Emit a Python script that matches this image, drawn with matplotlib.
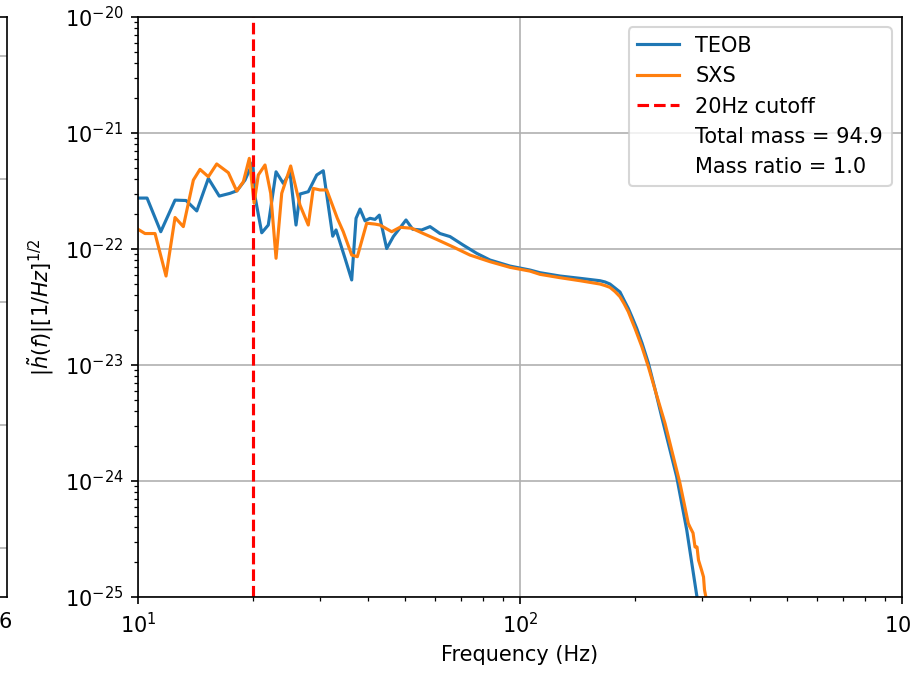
import matplotlib
matplotlib.use("Agg")
import matplotlib.pyplot as plt

# Amplitude spectra |h(f)| for the two waveforms
freq_teob = [10.0, 10.56, 11.47, 12.50, 13.36, 14.25, 15.28, 16.32, 17.41, 18.16,
             19.06, 19.97, 20.25, 21.08, 21.93, 22.98, 24.01, 25.0, 25.92, 26.55,
             27.91, 29.37, 30.55, 32.34, 32.99, 34.83, 36.26, 37.22, 38.13, 39.29,
             40.49, 41.73, 42.83, 44.77, 46.6, 50.30, 52.37, 55.29, 58.14, 61.74,
             65.59, 71.06, 77.03, 83.44, 94.15, 106.2, 112.8, 127.3, 143.6, 162.0,
             167.0, 172.0, 177.3, 182.7, 187.2, 192.1, 196.5, 202.1, 208.6, 216.8,
             225.6, 234.9, 257.1, 273.2, 290.1, 296.0]
h_teob = [2.75e-22, 2.75e-22, 1.41e-22, 2.64e-22, 2.62e-22, 2.13e-22, 4.06e-22, 2.86e-22, 3.02e-22, 3.18e-22,
          3.93e-22, 5.55e-22, 2.82e-22, 1.38e-22, 1.61e-22, 4.63e-22, 3.68e-22, 4.55e-22, 1.61e-22, 2.98e-22,
          3.12e-22, 4.35e-22, 4.73e-22, 1.29e-22, 1.46e-22, 8.32e-23, 5.41e-23, 1.84e-22, 2.21e-22, 1.75e-22,
          1.84e-22, 1.80e-22, 1.96e-22, 1.01e-22, 1.28e-22, 1.78e-22, 1.48e-22, 1.46e-22, 1.56e-22, 1.36e-22,
          1.28e-22, 1.08e-22, 9.18e-23, 8.04e-23, 7.13e-23, 6.59e-23, 6.25e-23, 5.85e-23, 5.59e-23, 5.33e-23,
          5.20e-23, 4.99e-23, 4.61e-23, 4.26e-23, 3.63e-23, 3.08e-23, 2.59e-23, 2.07e-23, 1.55e-23, 1.04e-23,
          6.21e-24, 3.58e-24, 1.09e-24, 3.79e-25, 1.04e-25, 7.4e-26]

freq_sxs = [10.0, 10.43, 11.08, 11.84, 12.50, 13.14, 13.96, 14.53, 15.28, 16.07,
            17.24, 18.13, 18.87, 19.56, 20.13, 20.65, 21.50, 22.25, 22.98, 23.78,
            25.10, 26.55, 27.91, 28.76, 29.95, 31.19, 33.25, 34.46, 36.26, 37.51,
            39.69, 41.73, 43.0, 46.14, 48.52, 52.06, 55.84, 60.53, 66.90, 73.97,
            83.44, 94.15, 106.2, 112.8, 127.3, 143.6, 162.0, 167.0, 172.0, 177.3,
            182.7, 187.2, 192.1, 196.5, 200.0, 208.6, 216.8, 227.0, 239.7, 262.3,
            275.8, 278.6, 283.8, 287.2, 290.7, 293.3, 298.7, 302.3, 304.1, 307.8,
            310.0]
h_sxs = [1.48e-22, 1.36e-22, 1.36e-22, 5.85e-23, 1.87e-22, 1.56e-22, 3.93e-22, 4.86e-22, 4.20e-22, 5.41e-22,
         4.55e-22, 3.16e-22, 3.80e-22, 6.05e-22, 2.48e-22, 4.35e-22, 5.30e-22, 3.02e-22, 8.32e-23, 3.02e-22,
         5.20e-22, 2.39e-22, 1.61e-22, 3.33e-22, 3.23e-22, 3.23e-22, 1.84e-22, 1.41e-22, 8.87e-23, 8.59e-23,
         1.67e-22, 1.64e-22, 1.61e-22, 1.41e-22, 1.54e-22, 1.51e-22, 1.36e-22, 1.21e-22, 1.04e-22, 8.87e-23,
         7.78e-23, 6.95e-23, 6.45e-23, 6.05e-23, 5.66e-23, 5.33e-23, 4.99e-23, 4.84e-23, 4.67e-23, 4.30e-23,
         3.88e-23, 3.39e-23, 2.88e-23, 2.39e-23, 2.07e-23, 1.43e-23, 9.66e-24, 5.74e-24, 3.14e-24, 9.55e-25,
         4.31e-25, 4.01e-25, 3.56e-25, 2.70e-25, 2.70e-25, 2.08e-25, 1.71e-25, 1.49e-25, 1.15e-25, 9.4e-26,
         7.0e-26]

f_cutoff = 20
total_mass = 94.9
mass_ratio = 1.0

fig = plt.figure(figsize=(911 / 150, 673 / 150), dpi=150)

# edge of the neighbouring panel
ax0 = fig.add_axes([-0.6, 0.1129, 0.6082, 0.8618])
ax0.set_ylim(-0.4, 4.315)
ax0.set_yticks([0, 1, 2, 3, 4])
ax0.grid(axis='y')
ax0.set_xlim(0, 1)
ax0.set_xticks([0.996], labels=['6'])
ax0.tick_params(axis='x', length=0, pad=7)
ax0.tick_params(axis='y', length=0, labelleft=False)

ax = fig.add_axes([0.1515, 0.1129, 0.8386, 0.8618])
ax.loglog(freq_teob, h_teob, label='TEOB')
ax.loglog(freq_sxs, h_sxs, label='SXS')
ax.axvline(f_cutoff, color='r', ls='--', label=f'{f_cutoff}Hz cutoff')
ax.plot([], [], ' ', label=f'Total mass = {total_mass}')
ax.plot([], [], ' ', label=f'Mass ratio = {mass_ratio}')
ax.set_xlim(10, 1000)
ax.set_ylim(1e-25, 1e-20)
ax.set_xlabel('Frequency (Hz)')
ax.set_ylabel(r'$|\tilde{h}(f)| [1/Hz]^{1/2}$')
ax.grid(True)
ax.legend(loc='upper right')

fig.savefig('out.png', dpi=150)
